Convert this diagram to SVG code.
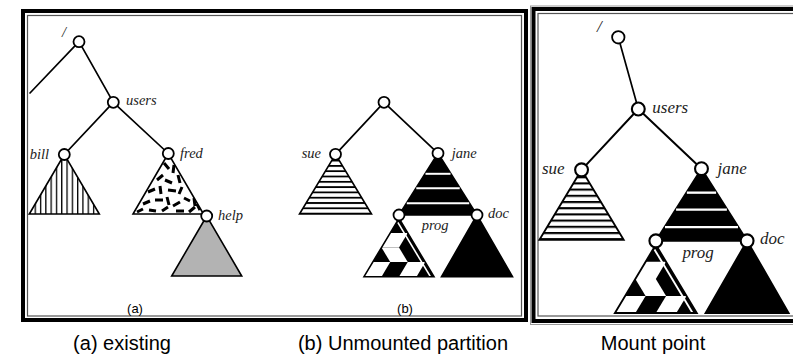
<svg xmlns="http://www.w3.org/2000/svg" width="793" height="360" viewBox="0 0 793 360">
  <style>
    .frame-outer { fill: none; stroke: #000; stroke-width: 4; }
    .frame-inner { fill: none; stroke: #555; stroke-width: 1.2; }
    .frame-halo { fill: none; stroke: #999; stroke-width: 1; }
    .edge { fill: none; stroke: #000; stroke-width: 1.7; stroke-linecap: round; }
    .node { fill: #fff; stroke: #000; stroke-width: 1.8; }
    .tri { stroke: #000; stroke-width: 1.6; stroke-linejoin: miter; }
    .outline { fill: none; stroke: #000; stroke-width: 1.6; stroke-linejoin: miter; }
    .lbl { font-family: "Liberation Serif", "Times New Roman", serif; font-style: italic; font-size: 14.5px; fill: #222; }
    .sub { font-family: "Liberation Sans", Arial, sans-serif; font-size: 13px; fill: #000; }
    .cap { font-family: "Liberation Sans", Arial, sans-serif; font-size: 20px; fill: #000; text-anchor: middle; }
    .dash { stroke: #000; stroke-width: 3; stroke-linecap: butt; }
    .gap { stroke: #fff; stroke-width: 2; }
  </style>
  <defs>
    <pattern id="vstripes" patternUnits="userSpaceOnUse" x="29.3" y="0" width="5.3" height="10">
      <rect x="0" y="0" width="1.3" height="10" fill="#000"/>
    </pattern>
    <pattern id="hstripes" patternUnits="userSpaceOnUse" x="0" y="-0.9" width="10" height="5.3">
      <rect x="0" y="0" width="10" height="1.8" fill="#000"/>
    </pattern>
    <clipPath id="fredClip">
      <polygon points="168.3,153.5 133,214 203.5,214"/>
    </clipPath>
  </defs>

  <rect x="0" y="0" width="793" height="360" fill="#fff"/>

  <!-- panel frames -->
  <g id="frames">
    <rect x="23" y="11" width="503" height="309" class="frame-outer"/>
    <rect x="27.5" y="15.5" width="494" height="300.5" class="frame-inner"/>
    <rect x="530.5" y="6" width="300" height="318.5" class="frame-halo"/>
    <rect x="533.5" y="9" width="300" height="312" class="frame-outer"/>
    <rect x="538" y="13.5" width="300" height="302.5" class="frame-inner"/>
  </g>

  <!-- tree edges -->
  <g id="connectors">
    <line class="edge" x1="79" y1="41.7" x2="30" y2="93"/>
    <line class="edge" x1="79" y1="41.7" x2="113.3" y2="102.3"/>
    <line class="edge" x1="113.3" y1="102.3" x2="64.3" y2="154.5"/>
    <line class="edge" x1="113.3" y1="102.3" x2="168.3" y2="153.5"/>
    <g transform="translate(384,102.3)">
      <line class="edge" x1="0" y1="0" x2="-48.5" y2="52"/>
      <line class="edge" x1="0" y1="0" x2="54" y2="51"/>
    </g>
    <line class="edge" x1="618.3" y1="37.3" x2="638.3" y2="109"/>
    <g transform="translate(638.3,109) scale(1.17)">
      <line class="edge" x1="0" y1="0" x2="-48.5" y2="52"/>
      <line class="edge" x1="0" y1="0" x2="54" y2="51"/>
    </g>
  </g>

  <!-- (a) existing tree -->
  <g id="a-root">
    <circle class="node" cx="79" cy="41.7" r="5.5"/>
    <text class="lbl" x="62" y="36.5">/</text>
  </g>
  <g id="a-users">
    <circle class="node" cx="113.3" cy="102.3" r="5.5"/>
    <text class="lbl" x="126" y="105">users</text>
  </g>
  <g id="a-bill">
    <polygon class="tri" points="64.3,154.5 29.3,214 99.3,214" fill="url(#vstripes)"/>
    <circle class="node" cx="64.3" cy="154.5" r="5.5"/>
    <text class="lbl" x="49" y="158.5" text-anchor="end">bill</text>
  </g>
  <g id="a-fred">
    <polygon points="168.3,153.5 133,214 203.5,214" fill="#fff"/>
    <g clip-path="url(#fredClip)">
      <path class="dash" d="M164,163 l5,6 M174,165 l-1,8 M157,180 l6,-5 M165,180 l7,3 M178,175 l2,8 M148,192 l7,-3 M160,186 l1,8 M168,190 l8,1 M182,187 l-3,7 M188,184 l5,6 M143,204 l7,-3 M155,200 l8,0 M167,197 l2,8 M173,206 l7,-4 M184,198 l6,3 M194,198 l1,8 M137,212 l6,-3 M149,210 l7,1 M162,211 l6,-4 M176,211 l8,0 M189,212 l6,-5 M197,204 l3,6"/>
    </g>
    <polygon class="outline" points="168.3,153.5 133,214 203.5,214"/>
    <circle class="node" cx="168.3" cy="153.5" r="5.5"/>
    <text class="lbl" x="180" y="158">fred</text>
  </g>
  <g id="a-help">
    <polygon class="tri" points="206.7,216 171.7,276 241.7,276" fill="#b3b3b3"/>
    <circle class="node" cx="206.7" cy="216" r="5.5"/>
    <text class="lbl" x="218" y="220">help</text>
  </g>
  <text class="sub" x="135" y="312.5" text-anchor="middle">(a)</text>

  <!-- (b) unmounted partition -->
  <g transform="translate(384,102.3)">
    <g id="b-root">
      <circle class="node" cx="0" cy="0" r="5.5"/>
    </g>
    <g id="b-sue">
      <polygon class="tri" points="-48.5,52 -84.5,111.7 -12.5,111.7" fill="url(#hstripes)"/>
      <circle class="node" cx="-48.5" cy="52" r="5.5"/>
      <text class="lbl" x="-63" y="55.7" text-anchor="end">sue</text>
    </g>
    <g id="b-jane">
      <polygon class="tri" points="54,51 15,112.7 93,112.7" fill="#000"/>
      <line class="gap" x1="41.5" y1="71.5" x2="66.5" y2="71.5"/>
      <line class="gap" x1="32.3" y1="86" x2="75.7" y2="86"/>
      <line class="gap" x1="22.8" y1="101" x2="85.2" y2="101"/>
      <circle class="node" cx="54" cy="51" r="5.5"/>
      <text class="lbl" x="67.7" y="55.7">jane</text>
    </g>
    <g id="b-prog">
      <polygon points="15,116 -20,174.4 50,174.4" fill="#000"/>
      <g fill="#fff">
        <polygon points="-2.5,145.2 15,145.2 23.75,130.6 6.25,130.6"/>
        <polygon points="-2.5,145.2 15,145.2 23.75,159.8 6.25,159.8"/>
        <polygon points="-20,174.4 -2.5,174.4 6.25,159.8 -11.25,159.8"/>
        <polygon points="15,174.4 32.5,174.4 41.25,159.8 23.75,159.8"/>
      </g>
      <line x1="13.8" y1="120" x2="46.4" y2="174.4" stroke="#fff" stroke-width="1.6"/>
      <polygon class="outline" points="15,116 -20,174.4 50,174.4"/>
      <circle class="node" cx="15" cy="112.7" r="5.5"/>
      <text class="lbl" x="37.7" y="127.7">prog</text>
    </g>
    <g id="b-doc">
      <polygon class="tri" points="93,112.7 57.5,174.4 128.5,174.4" fill="#000"/>
      <circle class="node" cx="93" cy="112.7" r="5.5"/>
      <text class="lbl" x="104" y="115.7">doc</text>
    </g>
  </g>
  <text class="sub" x="405" y="312.5" text-anchor="middle">(b)</text>

  <!-- mounted tree -->
  <g id="m-root">
    <circle class="node" cx="618.3" cy="37.3" r="6.2"/>
    <text class="lbl" x="597" y="32" style="font-size:17px">/</text>
  </g>
  <g transform="translate(638.3,109) scale(1.17)">
    <g id="m-users">
      <circle class="node" cx="0" cy="0" r="5.5"/>
      <text class="lbl" x="12" y="3">users</text>
    </g>
    <g id="m-sue">
      <polygon class="tri" points="-48.5,52 -84.5,111.7 -12.5,111.7" fill="url(#hstripes)"/>
      <circle class="node" cx="-48.5" cy="52" r="5.5"/>
      <text class="lbl" x="-63" y="55.7" text-anchor="end">sue</text>
    </g>
    <g id="m-jane">
      <polygon class="tri" points="54,51 15,112.7 93,112.7" fill="#000"/>
      <line class="gap" x1="41.5" y1="71.5" x2="66.5" y2="71.5"/>
      <line class="gap" x1="32.3" y1="86" x2="75.7" y2="86"/>
      <line class="gap" x1="22.8" y1="101" x2="85.2" y2="101"/>
      <circle class="node" cx="54" cy="51" r="5.5"/>
      <text class="lbl" x="67.7" y="55.7">jane</text>
    </g>
    <g id="m-prog">
      <polygon points="15,116 -20,174.4 50,174.4" fill="#000"/>
      <g fill="#fff">
        <polygon points="-2.5,145.2 15,145.2 23.75,130.6 6.25,130.6"/>
        <polygon points="-2.5,145.2 15,145.2 23.75,159.8 6.25,159.8"/>
        <polygon points="-20,174.4 -2.5,174.4 6.25,159.8 -11.25,159.8"/>
        <polygon points="15,174.4 32.5,174.4 41.25,159.8 23.75,159.8"/>
      </g>
      <line x1="13.8" y1="120" x2="46.4" y2="174.4" stroke="#fff" stroke-width="1.6"/>
      <polygon class="outline" points="15,116 -20,174.4 50,174.4"/>
      <circle class="node" cx="15" cy="112.7" r="5.5"/>
      <text class="lbl" x="37.7" y="127.7">prog</text>
    </g>
    <g id="m-doc">
      <polygon class="tri" points="93,112.7 57.5,174.4 128.5,174.4" fill="#000"/>
      <circle class="node" cx="93" cy="112.7" r="5.5"/>
      <text class="lbl" x="104" y="115.7">doc</text>
    </g>
  </g>

  <!-- captions -->
  <text class="cap" x="122" y="350">(a) existing</text>
  <text class="cap" x="403" y="350">(b) Unmounted partition</text>
  <text class="cap" x="653" y="350">Mount point</text>
</svg>
